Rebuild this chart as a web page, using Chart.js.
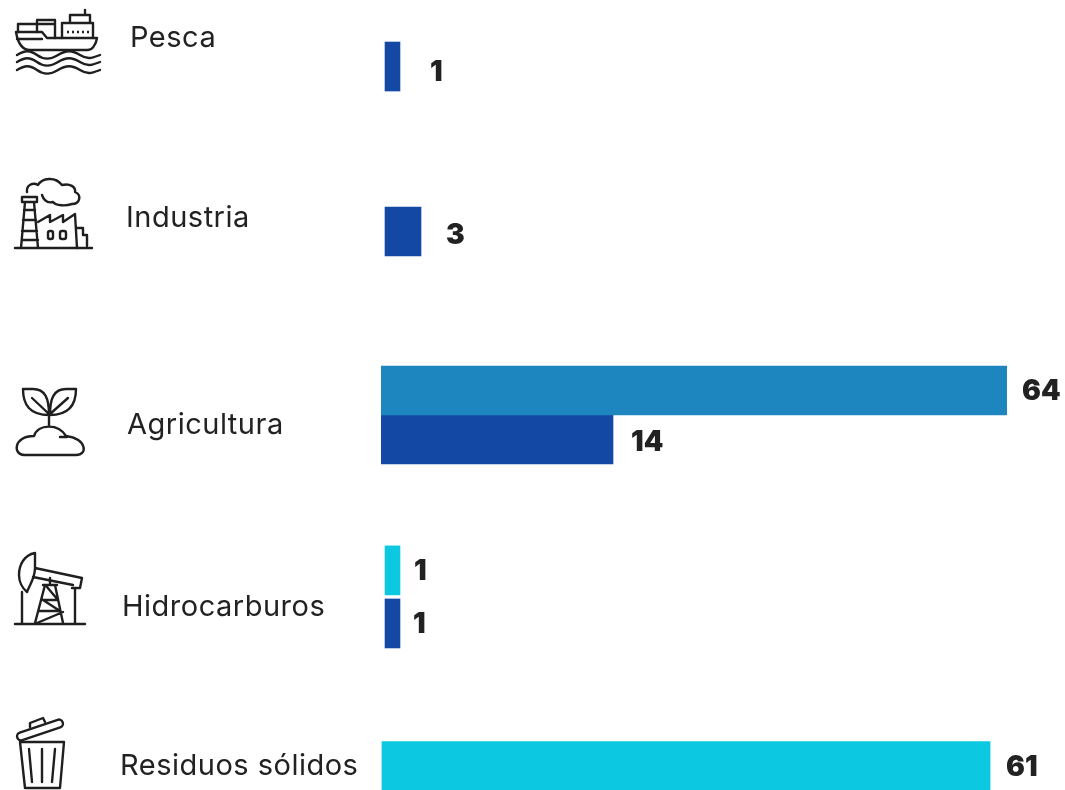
<!DOCTYPE html>
<html>
<head>
    <meta charset="utf-8">
    <title>Sectores</title>
    <script src="https://cdn.jsdelivr.net/npm/chart.js"></script>
    <style>
        html, body { margin: 0; background: #fff; overflow: hidden; }
        #wrap { position: relative; width: 1065px; height: 790px; }
        #chart { position: absolute; left: 0; top: 0; }
        #icons { position: absolute; left: 0; top: 0; pointer-events: none; }
        #icons * { fill: none; stroke: #1f1f1f; stroke-width: 2.4; stroke-linejoin: round; stroke-linecap: round; }
    </style>
</head>
<body>
<div id="wrap">
    <canvas id="chart" width="1065" height="790"></canvas>
    <svg id="icons" width="1065" height="790" viewBox="0 0 1065 790">
        <!-- Pesca -->
        <path d="M16 32H42L47 38H97C96 45 92 50 88 50H30C22 50 18 44 16 32M17 39H42"/>
        <path d="M18 32V24H37V32M37 24V20H55V38M37 24H55M62 38V23H93V38M70 23V15H90V23M85 15V10"/>
        <path d="M67 32H89" stroke-dasharray="2 3" style="stroke-linecap:butt"/>
        <path d="M17 55C25 50 30 50 37 55S50 60 58 55S72 50 80 55S92 58 100 55M17 62C25 57 30 57 37 62S50 67 58 62S72 57 80 62S92 65 100 62M17 70C25 65 30 65 37 70S50 75 58 70S72 65 80 70S92 73 100 70"/>
        <!-- Industria -->
        <path d="M15 248H92M22 197H37V202H22ZM25 202L21 248M34 202L38 248M24 210H35M23 220H36M22 231H37M22 240H38"/>
        <path d="M38 222L50 215V222L63 215V222L75 214L77 248M77 228H83V235H87V246"/>
        <rect x="48" y="231" width="5" height="8" rx="2"/><rect x="60" y="231" width="6" height="8" rx="2"/>
        <path d="M27 192C26 185 33 182 38 185C42 178 55 176 62 185C70 183 76 187 75 192C82 195 80 204 72 204C66 206 56 206 53 202C46 204 43 198 42 195"/>
        <!-- Agricultura -->
        <path d="M23 389H33C45 389 49 398 49 415C30 415 23 405 23 389ZM76 389H66C54 389 50 398 50 415C68 415 76 405 76 389ZM32 398L49 414M68 398L50 414M49 414V425"/>
        <path d="M60 437H67M24 455H76C88 455 87 439 66 436C58 423 38 424 34 436C13 436 13 455 24 455Z"/>
        <!-- Hidrocarburos -->
        <path d="M35 553C24 555 19 565 19 575C19 581 22 588 27 592C30 584 35 578 35 568ZM35 568L82 578L80 588H72M33 577L73 585M22 592V623M75 588V623M15 624H85"/>
        <path d="M45 585L35 623M55 585L63 623M43 585H57M50 578V585M43 600H57M47 587L58 600M39 611H60M43 600L60 611M37 623L63 612"/>
        <!-- Residuos solidos -->
        <rect x="16" y="726" width="48" height="8" rx="4" transform="rotate(-18.7 40 730)"/>
        <path d="M30 727V723L43 718L45 722M20 742H64L60 788H25ZM29 749L32 782M42 749V782M55 749L52 782"/>
    </svg>
</div>
<script>
    // Sector names and where each name sits
    const categories = ['Pesca', 'Industria', 'Agricultura', 'Hidrocarburos', 'Residuos sólidos'];

    // Printed values per series
    const cyanValues = [null, null, null, 1, 61];
    const tealValues = [null, null, 64, null, null];
    const blueValues = [1, 3, 14, 1, null];

    // Bar ends (the reference bars are not proportional to the printed values)
    const cyanBars = [null, null, null, [0.41, 1.94], [0.1, 62.27]];
    const tealBars = [null, null, [0, 64], null, null];
    const blueBars = [[0.41, 1.94], [0.41, 4.09], [0, 23.72], [0.41, 1.94], null];

    // Row of each bar, percent of the chart height
    const cyanRows = [null, null, null, 72.2, 96.96];
    const tealRows = [null, null, 49.43, null, null];
    const blueRows = [8.42, 29.3, 55.63, 78.92, null];

    const nameX = [130, 126, 127, 122, 120];
    const nameY = [38, 218, 425, 607, 766];
    const cyanGap = [0, 0, 0, [14, 1], [16, 2]];
    const tealGap = [0, 0, [15, 1], 0, 0];
    const blueGap = [[30, 6], [25, 4], [18, 3], [13, 1], 0];

    function points(bars, rows) {
        return bars.map((b, i) => b ? { x: b, y: rows[i] } : null).filter(p => p);
    }
    function keep(list) {
        return list.filter(v => v !== null);
    }

    const series = [
        { color: '#0CC8E0', values: cyanValues, bars: cyanBars, rows: cyanRows, gaps: cyanGap },
        { color: '#1E86BF', values: tealValues, bars: tealBars, rows: tealRows, gaps: tealGap },
        { color: '#1349A5', values: blueValues, bars: blueBars, rows: blueRows, gaps: blueGap }
    ];

    const textPlugin = {
        id: 'textPlugin',
        afterDatasetsDraw(chart) {
            const ctx = chart.ctx;
            ctx.save();
            ctx.fillStyle = '#222';
            ctx.textBaseline = 'middle';
            ctx.textAlign = 'left';
            // sector names
            ctx.font = '400 29px Inter';
            ctx.letterSpacing = '0.5px';
            categories.forEach((name, i) => ctx.fillText(name, nameX[i], nameY[i]));
            // values next to the bars
            ctx.letterSpacing = '0px';
            ctx.font = '900 28px Inter';
            series.forEach((s, d) => {
                const els = chart.getDatasetMeta(d).data;
                const vals = keep(s.values);
                const gaps = s.gaps.filter((g, i) => s.values[i] !== null);
                els.forEach((el, i) => {
                    ctx.fillText(vals[i], el.x + gaps[i][0], el.y + gaps[i][1]);
                });
            });
            ctx.restore();
        }
    };

    new Chart(document.getElementById('chart'), {
        type: 'bar',
        plugins: [textPlugin],
        data: {
            datasets: series.map(s => ({
                data: points(s.bars, s.rows),
                backgroundColor: s.color,
                barThickness: 49,
                grouped: false
            }))
        },
        options: {
            indexAxis: 'y',
            responsive: false,
            animation: false,
            layout: { padding: { left: 381, right: 58, top: 0, bottom: 0 } },
            plugins: { legend: { display: false }, tooltip: { enabled: false } },
            scales: {
                x: { type: 'linear', min: 0, max: 64, display: false },
                y: { type: 'linear', min: 0, max: 100, reverse: true, display: false, offset: false }
            }
        }
    });
</script>
</body>
</html>
